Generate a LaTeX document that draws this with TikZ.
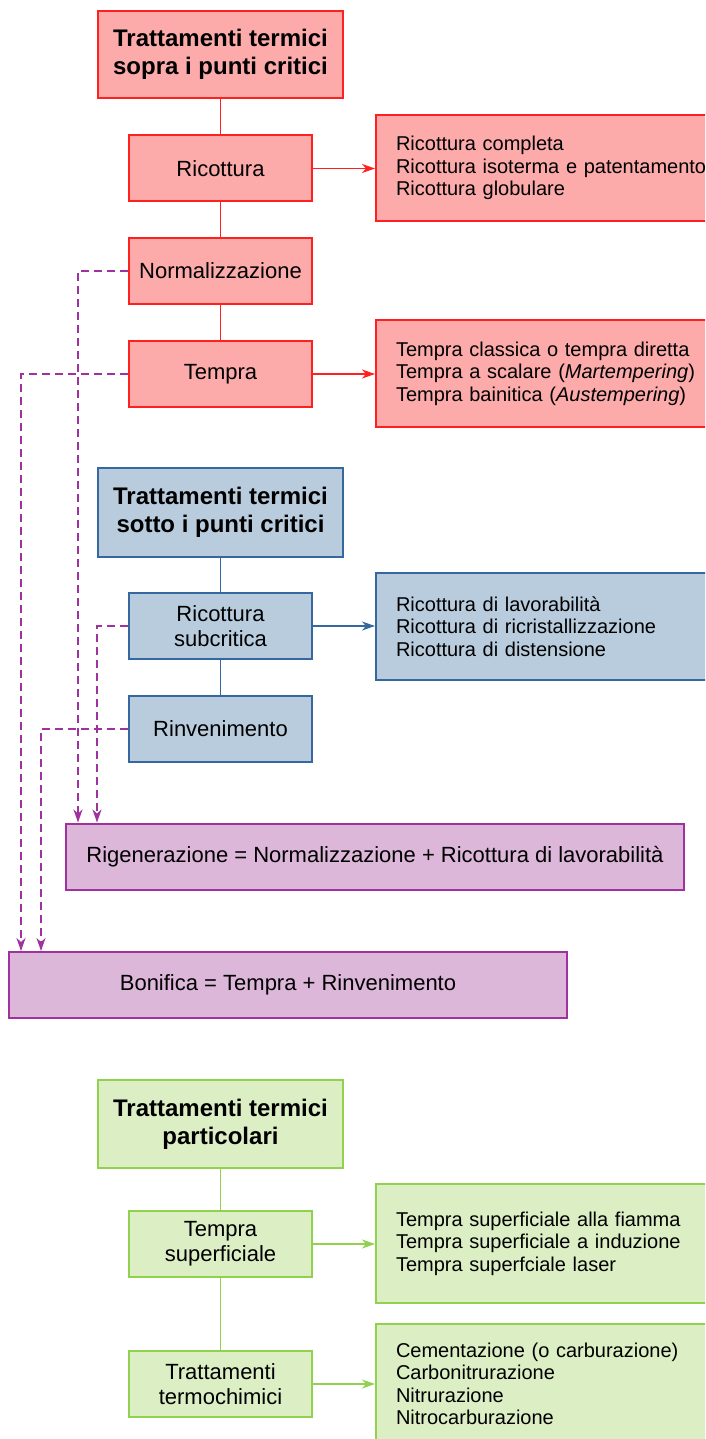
\documentclass[tikz,border=0pt]{standalone}
\usepackage{fontspec}
\setmainfont{Liberation Sans}
\usetikzlibrary{arrows.meta,calc}
\definecolor{redfill}{RGB}{252,170,170}
\definecolor{redline}{RGB}{255,32,32}
\definecolor{bluefill}{RGB}{185,204,222}
\definecolor{blueline}{RGB}{54,104,160}
\definecolor{purfill}{RGB}{220,183,218}
\definecolor{purline}{RGB}{160,50,160}
\definecolor{grnfill}{RGB}{220,238,196}
\definecolor{grnline}{RGB}{146,208,80}
\tikzset{
  titlebox/.style={draw, line width=2pt, minimum width=245pt, inner sep=0pt, align=center,
    font=\fontsize{24}{28}\selectfont\bfseries},
  subbox/.style={draw, line width=2pt, minimum width=183pt, minimum height=66pt, inner sep=0pt,
    align=center, font=\fontsize{22}{25}\selectfont},
  listbox/.style={draw, line width=2pt, anchor=west, text width=360pt, inner xsep=20pt,
    inner ysep=0pt, align=left, font=\fontsize{20}{22.5}\selectfont},
  sumbox/.style={draw, line width=2pt, inner sep=0pt, minimum height=66pt,
    font=\fontsize{22}{25}\selectfont},
  redst/.style={fill=redfill, draw=redline},
  bluest/.style={fill=bluefill, draw=blueline},
  purst/.style={fill=purfill, draw=purline},
  grnst/.style={fill=grnfill, draw=grnline},
  link/.style={line width=1.5pt},
  arr/.style={line width=1.5pt, -{Stealth[length=13pt,width=9pt,inset=4pt]}},
  dashlink/.style={line width=1.6pt, draw=purline, dash pattern=on 8pt off 5pt,
    -{Stealth[length=13pt,width=9pt,inset=4pt]}}
}
\begin{document}
\begin{tikzpicture}[x=1pt,y=-1pt]
\clip (0,0) rectangle (705,1439);
\fill[white] (0,0) rectangle (705,1439);

% ---- red section
\node[titlebox, redst, minimum height=87pt] (t1) at (220.5,54.5) {Trattamenti termici\\sopra i punti critici};
\node[subbox, redst] (ric) at (220.5,168.5) {Ricottura};
\node[subbox, redst] (norm) at (220.5,271) {Normalizzazione};
\node[subbox, redst] (temp) at (220.5,374) {Tempra};
\node[listbox, redst, minimum height=106pt] (l1) at (375,168) {Ricottura completa\\Ricottura isoterma e patentamento\\Ricottura globulare};
\node[listbox, redst, minimum height=107pt] (l2) at (375,373.5) {Tempra classica o tempra diretta\\Tempra a scalare (\textit{Martempering})\\Tempra bainitica (\textit{Austempering})};
\draw[link, redline] (t1.south) -- (ric.north);
\draw[link, redline] (ric.south) -- (norm.north);
\draw[link, redline] (norm.south) -- (temp.north);
\draw[arr, redline] (ric.east) -- (ric.east -| l1.west);
\draw[arr, redline] (temp.east) -- (temp.east -| l2.west);

% ---- blue section
\node[titlebox, bluest, minimum height=89pt] (t2) at (220.5,512.5) {Trattamenti termici\\sotto i punti critici};
\node[subbox, bluest] (rsub) at (220.5,626) {Ricottura\\subcritica};
\node[subbox, bluest] (rinv) at (220.5,729) {Rinvenimento};
\node[listbox, bluest, minimum height=107pt] (l3) at (375,626.5) {Ricottura di lavorabilità\\Ricottura di ricristallizzazione\\Ricottura di distensione};
\draw[link, blueline] (t2.south) -- (rsub.north);
\draw[link, blueline] (rsub.south) -- (rinv.north);
\draw[arr, blueline] (rsub.east) -- (rsub.east -| l3.west);

% ---- purple section
\node[sumbox, purst, minimum width=618pt] (rig) at (375,856.5) {Rigenerazione = Normalizzazione + Ricottura di lavorabilità};
\node[sumbox, purst, minimum width=558pt] (bon) at (288,985) {Bonifica = Tempra + Rinvenimento};
\draw[dashlink] (norm.west) -| ($(rig.north west)+(13,0)$);
\draw[dashlink] (rsub.west) -| ($(rig.north west)+(32,0)$);
\draw[dashlink] (temp.west) -| ($(bon.north west)+(13,0)$);
\draw[dashlink] (rinv.west) -| ($(bon.north west)+(33,0)$);

% ---- green section
\node[titlebox, grnst, minimum height=88pt] (t3) at (220.5,1124) {Trattamenti termici\\particolari};
\node[subbox, grnst] (tsup) at (220.5,1244) {Tempra\\superficiale};
\node[subbox, grnst] (tchim) at (220.5,1384) {Trattamenti\\termochimici};
\node[listbox, grnst, minimum height=119pt] (l5) at (375,1243.5) {Tempra superficiale alla fiamma\\Tempra superficiale a induzione\\Tempra superfciale laser};
\node[listbox, grnst, minimum height=120pt] (l6) at (375,1384) {Cementazione (o carburazione)\\Carbonitrurazione\\Nitrurazione\\Nitrocarburazione};
\draw[link, grnline] (t3.south) -- (tsup.north);
\draw[link, grnline] (tsup.south) -- (tchim.north);
\draw[arr, grnline] (tsup.east) -- (tsup.east -| l5.west);
\draw[arr, grnline] (tchim.east) -- (tchim.east -| l6.west);
\end{tikzpicture}
\end{document}
